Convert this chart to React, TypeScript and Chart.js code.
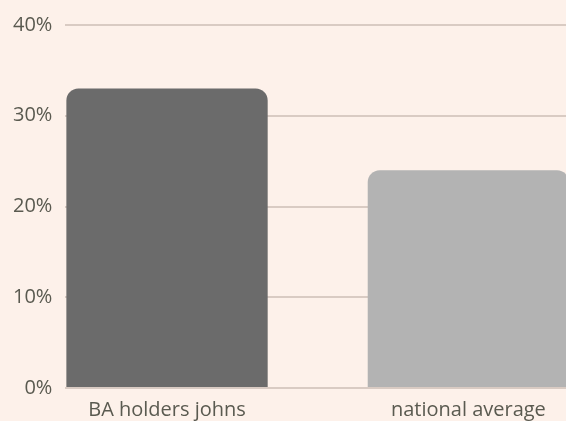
import React, { useEffect, useRef } from "react";
import { Chart, registerables } from "chart.js";

Chart.register(...registerables);

const categories = ["BA holders johns", "national average"];
const values = [33, 24];
const barColors = ["#6b6b6b", "#b3b3b3"];
const yTicks = [0, 10, 20, 30, 40];

export default function App() {
  const ref = useRef<HTMLCanvasElement | null>(null);

  useEffect(() => {
    document.body.style.margin = "0";
    document.body.style.background = "#fdf1ea";
    const ctx = ref.current;
    if (!ctx) return;
    const chart = new Chart(ctx, {
      type: "bar",
      data: {
        datasets: [
          {
            data: categories.map((_, i) => ({ x: i, y: values[i] })),
            backgroundColor: barColors,
            borderRadius: 12,
            borderSkipped: "start",
            categoryPercentage: 1,
            barPercentage: 0.668,
          },
        ],
      },
      options: {
        animation: false,
        responsive: true,
        maintainAspectRatio: false,
        layout: { padding: { top: 24, left: 0, right: 0, bottom: -11 } },
        plugins: { legend: { display: false }, tooltip: { enabled: false } },
        scales: {
          x: {
            type: "linear",
            offset: false,
            min: -0.3372,
            max: 1.3239,
            grid: { display: false, drawTicks: false },
            border: { display: false },
            afterBuildTicks: (scale: any) => {
              scale.ticks = categories.map((_, i) => ({ value: i }));
            },
            ticks: {
              padding: 10,
              color: "#5a5a50",
              font: { family: "'Open Sans'", size: 20 },
              autoSkip: false,
              maxRotation: 0,
              callback: (v: any) => categories[v as number] ?? "",
            },
          },
          y: {
            min: yTicks[0],
            max: yTicks[yTicks.length - 1],
            afterBuildTicks: (scale: any) => {
              scale.ticks = yTicks.map((v) => ({ value: v }));
            },
            grid: { color: "#d9cbc3", lineWidth: 2, drawTicks: false },
            border: { display: false },
            ticks: {
              padding: 13,
              color: "#5a5a50",
              font: { family: "'Open Sans'", size: 20 },
              callback: (v: any) => v + "%",
            },
          },
        },
      },
    });
    return () => chart.destroy();
  }, []);

  return (
    <div style={{ width: 566, height: 421, background: "#fdf1ea", position: "relative" }}>
      <canvas ref={ref} />
    </div>
  );
}
